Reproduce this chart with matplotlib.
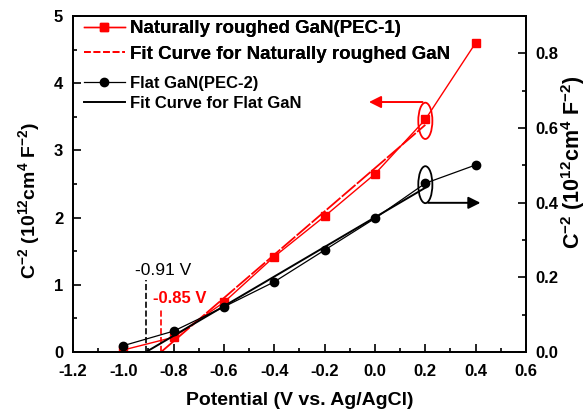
import numpy as np
import matplotlib.pyplot as plt
from matplotlib.patches import Ellipse
from matplotlib.lines import Line2D

plt.rcParams['font.family'] = ['Liberation Sans', 'DejaVu Sans']
plt.rcParams['font.weight'] = 'bold'
plt.rcParams['mathtext.fontset'] = 'custom'
plt.rcParams['mathtext.rm'] = 'Liberation Sans:bold'
plt.rcParams['mathtext.bf'] = 'Liberation Sans:bold'
plt.rcParams['mathtext.default'] = 'bf'

# measured points
potential = [-1.0, -0.8, -0.6, -0.4, -0.2, 0.0, 0.2, 0.4]
rough_c2 = [0.03, 0.22, 0.74, 1.42, 2.02, 2.65, 3.46, 4.60]       # left axis
flat_c2 = [0.017, 0.056, 0.121, 0.188, 0.273, 0.358, 0.452, 0.501]  # right axis

# linear fits (x-intercept = flat band potential)
rough_fit_x = [-0.85, 0.2]
rough_fit_y = [0.0, 3.38]
flat_fit_x = [-0.91, 0.2]
flat_fit_y = [0.0, 0.44]

vfb_rough = -0.85
vfb_flat = -0.91

fig = plt.figure(figsize=(5.87, 4.09), dpi=100)
ax = fig.add_axes([73/587, 1-352/409, 453/587, 336/409])
ax2 = ax.twinx()

l1, = ax.plot(potential, rough_c2, color='red', lw=1.0, marker='s', ms=5.5)
ax.plot(rough_fit_x, rough_fit_y, color='red', lw=1.3, ls=(0, (10, 1)))
l3, = ax2.plot(potential, flat_c2, color='black', lw=0.9, marker='o', ms=6)
l4, = ax2.plot(flat_fit_x, flat_fit_y, color='black', lw=1.4)
l2 = Line2D([], [], color='red', lw=1.3, ls='--')

# flat band markers
ax.plot([vfb_flat, vfb_flat], [0, 1.07], color='black', ls='--', lw=1.2)
ax.plot([vfb_rough, vfb_rough], [0, 0.62], color='red', ls='--', lw=1.2)
ax.text(-0.84, 1.21, '-0.91 V', color='black', fontsize=12.5, fontweight='normal',
        ha='center', va='center')
ax.text(-0.775, 0.79, '-0.85 V', color='red', fontsize=12,
        ha='center', va='center')

# ellipses + arrows pointing to the axes
ax.add_patch(Ellipse((0.2, 3.44), 0.056, 0.54, fill=False, ec='red', lw=1.3))
ax.annotate('', xy=(-0.035, 3.72), xytext=(0.2, 3.72),
            arrowprops=dict(arrowstyle='-|>', color='red', lw=1.4, mutation_scale=18))
ax.add_patch(Ellipse((0.2, 2.49), 0.056, 0.55, fill=False, ec='black', lw=1.3))
ax.annotate('', xy=(0.43, 2.22), xytext=(0.2, 2.22),
            arrowprops=dict(arrowstyle='-|>', color='black', lw=1.4, mutation_scale=18))

ax.set_xlim(-1.2, 0.6)
ax.set_ylim(0, 5)
ax2.set_ylim(0, 0.9)
ax.set_xticks(np.arange(-1.2, 0.61, 0.2))
ax.set_xticks(np.arange(-1.1, 0.6, 0.2), minor=True)
ax.set_yticks(range(0, 6))
ax.set_yticks(np.arange(0.5, 5, 1.0), minor=True)
ax2.set_yticks(np.arange(0, 0.81, 0.2))
ax2.set_yticks(np.arange(0.1, 0.9, 0.2), minor=True)
fmt = plt.FuncFormatter(lambda v, p: '%.1f' % (round(v, 1) + 0.0))
ax.xaxis.set_major_formatter(fmt)
ax2.yaxis.set_major_formatter(fmt)

for a in (ax, ax2):
    a.tick_params(which='major', direction='in', length=6, width=1.2, labelsize=12, pad=7)
    a.tick_params(which='minor', direction='in', length=3, width=1.2)
    for s in a.spines.values():
        s.set_linewidth(1.3)
ax.tick_params(top=False, right=False)
ax.tick_params(axis='x', pad=9)

ax.set_xlabel('Potential (V vs. Ag/AgCl)', fontsize=14, fontweight='bold', labelpad=9)
ax.set_ylabel(r'C$^{-2}$ (10$^{12}$cm$^{4}$ F$^{-2}$)', fontsize=14, fontweight='bold')
ax2.set_ylabel(r'C$^{-2}$ (10$^{12}$cm$^{4}$ F$^{-2}$)', fontsize=15.5, fontweight='bold')
ax.yaxis.set_label_coords(-0.068, 0.45)
ax2.yaxis.set_label_coords(1.072, 0.565)

leg1 = ax.legend([l1, l2], ['Naturally roughed GaN(PEC-1)', 'Fit Curve for Naturally roughed GaN'],
                 loc='upper left', frameon=False, fontsize=13.5, handlelength=2.2,
                 handletextpad=0.27, labelspacing=0.45, borderpad=0, borderaxespad=0,
                 bbox_to_anchor=(0.024, 0.988))
ax.add_artist(leg1)
ax2.legend([l3, l4], ['Flat GaN(PEC-2)', 'Fit Curve for Flat GaN'],
           loc='upper left', frameon=False, fontsize=12, handlelength=2.45,
           handletextpad=0.3, labelspacing=0.3, borderpad=0, borderaxespad=0,
           bbox_to_anchor=(0.024, 0.822))

fig.savefig('out.png', dpi=100)
